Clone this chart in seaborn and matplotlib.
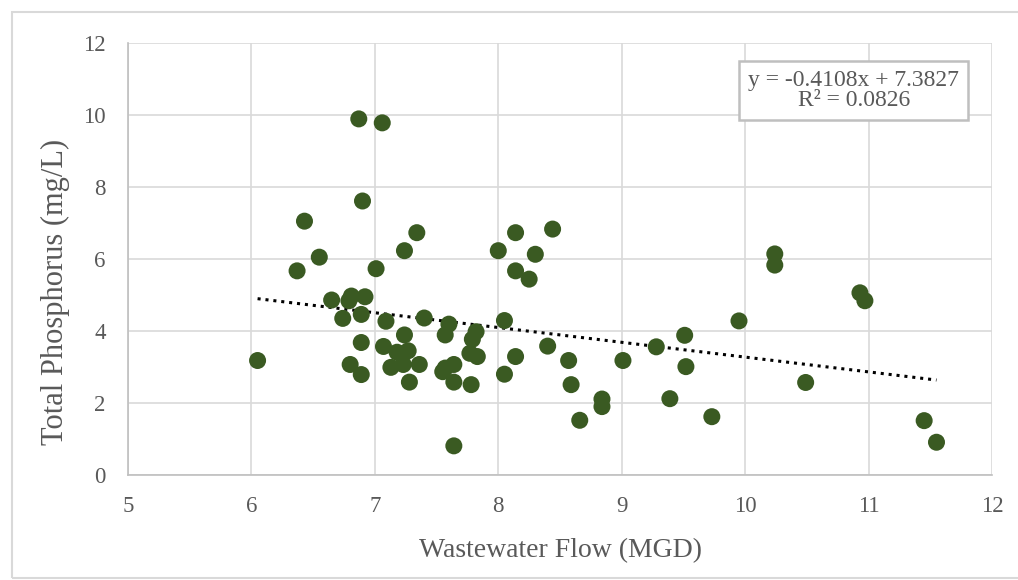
import numpy as np
import pandas as pd
import seaborn as sns
import matplotlib.pyplot as plt
from matplotlib.patches import Rectangle

flow = [6.05, 6.37, 6.43, 6.55, 6.65, 6.74, 6.79, 6.80, 6.81, 6.87,
        6.89, 6.89, 6.89, 6.90, 6.92, 7.01, 7.06, 7.07, 7.09, 7.13,
        7.18, 7.23, 7.24, 7.24, 7.27, 7.28, 7.34, 7.36, 7.40, 7.55,
        7.57, 7.57, 7.60, 7.64, 7.64, 7.64, 7.77, 7.78, 7.79, 7.82,
        7.83, 8.00, 8.05, 8.05, 8.14, 8.14, 8.14, 8.25, 8.30, 8.40,
        8.44, 8.57, 8.59, 8.66, 8.84, 8.84, 9.01, 9.28, 9.39, 9.51,
        9.52, 9.73, 9.95, 10.24, 10.24, 10.49, 10.93, 10.97, 11.45, 11.55]
phosphorus = [3.18, 5.67, 7.05, 6.05, 4.86, 4.35, 4.84, 3.07, 4.97, 9.89,
              4.46, 3.68, 2.79, 7.61, 4.95, 5.73, 9.78, 3.57, 4.27, 2.99,
              3.41, 3.07, 6.23, 3.89, 3.45, 2.58, 6.73, 3.07, 4.36, 2.87,
              2.97, 3.89, 4.19, 3.07, 2.58, 0.81, 3.38, 2.51, 3.77, 3.98,
              3.29, 6.23, 4.29, 2.80, 6.73, 5.67, 3.29, 5.44, 6.13, 3.58,
              6.83, 3.18, 2.51, 1.52, 2.11, 1.90, 3.18, 3.56, 2.12, 3.88,
              3.01, 1.62, 4.28, 6.14, 5.83, 2.57, 5.06, 4.84, 1.51, 0.91]

# linear trendline shown on the chart
slope = -0.4108
intercept = 7.3827
r2 = 0.0826

df = pd.DataFrame({'Flow': flow, 'TP': phosphorus})
trend_x = np.array([min(flow), max(flow)])
trend = pd.DataFrame({'Flow': trend_x, 'TP': slope * trend_x + intercept})

sns.set_style('white')
plt.rcParams['font.family'] = ['Liberation Serif', 'DejaVu Serif']
text_col = '#595959'

fig = plt.figure(figsize=(10.18, 5.8), dpi=100)
ax = fig.add_axes([0.1257, 0.181, 0.8488, 0.745])

ax.grid(True, color='#d9d9d9', linewidth=1.2, zorder=0)
ax.set_axisbelow(True)

sns.lineplot(data=trend, x='Flow', y='TP', ax=ax, color='black',
             linestyle=(0, (1, 1.6)), linewidth=2.2, zorder=2)
sns.scatterplot(data=df, x='Flow', y='TP', ax=ax, color='#3a5a22',
                s=150, edgecolor='none', zorder=3)

ax.set_xlim(5, 12)
ax.set_ylim(0, 12)
ax.set_xticks(range(5, 13))
ax.set_yticks(range(0, 13, 2))
ax.tick_params(axis='both', colors='#bfbfbf', labelcolor=text_col,
               labelsize=16.5, length=6, width=1, direction='out')
ax.tick_params(axis='x', pad=9)
ax.tick_params(axis='y', pad=10)
for side in ['top', 'right']:
    ax.spines[side].set_visible(False)
for side in ['left', 'bottom']:
    ax.spines[side].set_color('#bfbfbf')
    ax.spines[side].set_linewidth(1.2)

ax.set_xlabel('Wastewater Flow (MGD)', fontsize=20, color=text_col, labelpad=15)
ax.set_ylabel('Total Phosphorus (mg/L)', fontsize=22, color=text_col)
ax.yaxis.set_label_coords(-0.067, 0.424)

ax.text(0.840, 0.889, f'y = {slope:.4f}x + {intercept:.4f}\nR² = {r2:.4f}',
        transform=ax.transAxes, ha='center', va='center', fontsize=17,
        color=text_col, linespacing=0.95,
        bbox=dict(boxstyle='square,pad=0.38', facecolor='white',
                  edgecolor='#bfbfbf', linewidth=1.8), zorder=5)

fig.patches.append(Rectangle((12 / 1018, 0.003), 1.0, 1 - 12 / 580 - 0.003,
                             transform=fig.transFigure, fill=False,
                             edgecolor='#d9d9d9', linewidth=1.5))

fig.savefig('out.png', dpi=100)
